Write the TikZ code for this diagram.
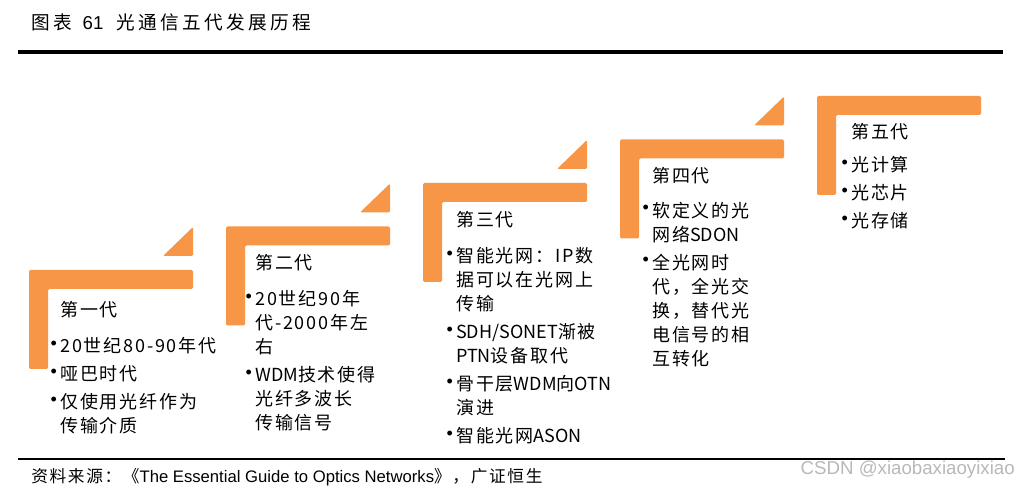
\documentclass[tikz,border=0pt]{standalone}
\usepackage{fontspec}
\setmainfont{Liberation Sans}
\newfontfamily\cjk[LetterSpace=10]{Noto Sans CJK SC}
\newfontfamily\cjktitle[LetterSpace=18]{Noto Sans CJK SC}
\newfontfamily\nls{Noto Sans CJK SC}
\definecolor{steporange}{HTML}{F79646}
\newcommand\bul{\makebox[0pt][r]{\raisebox{0.35ex}{\rmfamily •}\hspace{2.5pt}}}
\newcommand\lat[1]{{\nls #1}}

\begin{document}
\begin{tikzpicture}[x=0.75pt, y=-0.75pt,
    stepbar/.style={fill=steporange, rounded corners=1pt},
    gentext/.style={anchor=north west, align=left, inner sep=0pt,
      font=\cjk\fontsize{13.5}{18}\selectfont},
  ]
  \useasboundingbox (0,0) rectangle (1018,488);

  % Title and rules
  \node[anchor=west, inner sep=0pt, font=\fontsize{14}{17}\selectfont] (title) at (31,22)
    {{\cjktitle 图表}\hspace{8pt}61\hspace{10pt}{\cjktitle 光通信五代发展历程}};
  \draw[line width=3pt] (18,52) -- (1003,52);
  \draw[line width=2.2pt] (18,459) -- (1005,459);

  % First generation
  \fill[stepbar] (29,270) -- ++(164,0) -- ++(0,19) -- ++(-145,0) -- ++(0,80) -- ++(-19,0) -- cycle;
  \fill[stepbar] (193,227) -- (193,256) -- (163,256) -- cycle;
  \node[gentext] (gen1) at (60,301) {第一代\\[9pt]
    \bul 20世纪80-90年代\\[3pt]
    \bul 哑巴时代\\[3pt]
    \bul 仅使用光纤作为\\
    传输介质};

  % Second generation
  \fill[stepbar] (226,226.5) -- ++(164,0) -- ++(0,19) -- ++(-145,0) -- ++(0,80) -- ++(-19,0) -- cycle;
  \fill[stepbar] (390,183.5) -- (390,212.5) -- (360,212.5) -- cycle;
  \node[gentext] (gen2) at (255,254) {第二代\\[9pt]
    \bul 20世纪90年\\
    代-2000年左\\
    右\\[3pt]
    \bul \lat{WDM}技术使得\\
    光纤多波长\\
    传输信号};

  % Third generation
  \fill[stepbar] (423,183) -- ++(164,0) -- ++(0,19) -- ++(-145,0) -- ++(0,80) -- ++(-19,0) -- cycle;
  \fill[stepbar] (587,140) -- (587,169) -- (557,169) -- cycle;
  \node[gentext] (gen3) at (456,211) {第三代\\[9pt]
    \bul 智能光网：IP数\\
    据可以在光网上\\
    传输\\[3pt]
    \bul \lat{SDH/SONET}渐被\\
    \lat{PTN}设备取代\\[3pt]
    \bul 骨干层\lat{WDM}向\lat{OTN}\\
    演进\\[3pt]
    \bul 智能光网\lat{ASON}};

  % Fourth generation
  \fill[stepbar] (620,139.5) -- ++(164,0) -- ++(0,19) -- ++(-145,0) -- ++(0,80) -- ++(-19,0) -- cycle;
  \fill[stepbar] (784,96.5) -- (784,125.5) -- (754,125.5) -- cycle;
  \node[gentext] (gen4) at (652,167) {第四代\\[8pt]
    \bul 软定义的光\\
    网络\lat{SDON}\\[3pt]
    \bul 全光网时\\
    代，全光交\\
    换，替代光\\
    电信号的相\\
    互转化};

  % Fifth generation
  \fill[stepbar] (817,96) -- ++(164,0) -- ++(0,19) -- ++(-145,0) -- ++(0,80) -- ++(-19,0) -- cycle;
  \node[gentext] (gen5) at (851,123) {第五代\\[7pt]
    \bul 光计算\\[3pt]
    \bul 光芯片\\[3pt]
    \bul 光存储};

  % Source and watermark
  \node[anchor=west, inner sep=0pt, font=\fontsize{12.5}{15}\selectfont] (source) at (31,477)
    {{\cjk 资料来源：《}The Essential Guide to Optics Networks{\cjk 》，广证恒生}};
  \node[anchor=east, inner sep=0pt, text=black!28, font=\fontsize{14}{17}\selectfont] (mark) at (1015,470)
    {CSDN @xiaobaxiaoyixiao};
\end{tikzpicture}
\end{document}
